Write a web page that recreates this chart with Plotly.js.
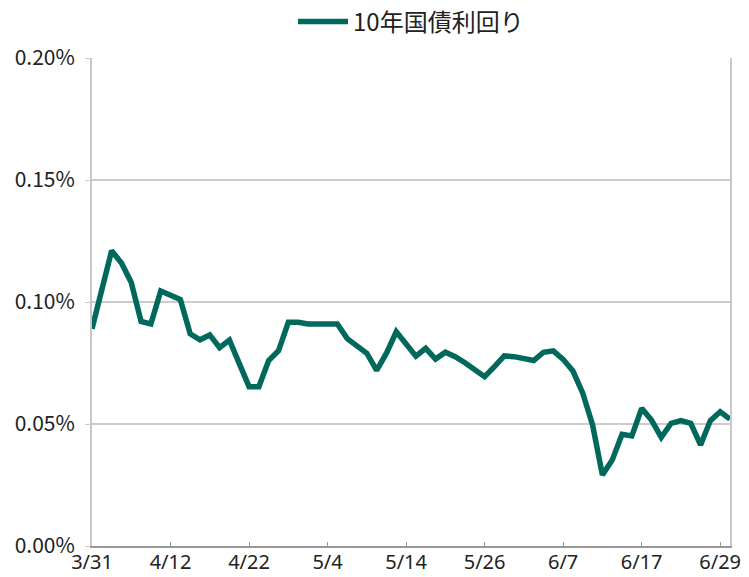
<!DOCTYPE html>
<html>
<head>
<meta charset="utf-8">
<script src="https://cdn.plot.ly/plotly-3.0.1.min.js"></script>
<style>html,body{margin:0;padding:0;background:#fff;}#chart{width:749px;height:577px;}</style>
</head>
<body>
<div id="chart"></div>
<script>
const seriesName = "10年国債利回り";
const dates = [
  "3/31","4/1","4/2","4/5","4/6","4/7","4/8","4/9","4/12",
  "4/13","4/14","4/15","4/16","4/19","4/20","4/21","4/22",
  "4/23","4/26","4/27","4/28","4/29","4/30","5/3","5/4",
  "5/5","5/6","5/7","5/10","5/11","5/12","5/13","5/14",
  "5/17","5/18","5/19","5/20","5/21","5/24","5/25","5/26",
  "5/27","5/28","5/31","6/1","6/2","6/3","6/4","6/7",
  "6/8","6/9","6/10","6/11","6/14","6/15","6/16","6/17",
  "6/18","6/21","6/22","6/23","6/24","6/25","6/28","6/29","6/30"
];
const yields = [
  0.089,0.106,0.121,0.116,0.108,0.092,0.091,0.1045,0.103,
  0.101,0.087,0.0845,0.0865,0.0813,0.0844,0.075,0.0653,
  0.0653,0.076,0.080,0.0917,0.0917,0.091,0.091,0.091,
  0.091,0.085,0.082,0.079,0.072,0.079,0.0878,0.0826,
  0.0778,0.081,0.0766,0.0794,0.0776,0.0751,0.0721,0.0694,
  0.0735,0.0779,0.0776,0.0769,0.076,0.0794,0.080,0.0765,
  0.0717,0.0626,0.0496,0.0291,0.0352,0.0458,0.0451,0.0564,
  0.0516,0.0445,0.0503,0.0514,0.0503,0.0414,0.0514,0.055,0.052
];
const yTickVals = [0, 0.05, 0.10, 0.15, 0.20];
const yTickText = ["0.00%","0.05%","0.10%","0.15%","0.20%"];
const xTickLabels = ["3/31","4/12","4/22","5/4","5/14","5/26","6/7","6/17","6/29"];

const font = '"Noto Sans CJK JP", "Noto Sans", sans-serif';

Plotly.newPlot('chart', [{
  x: dates,
  y: yields,
  type: 'scatter',
  mode: 'lines',
  name: seriesName,
  line: {color: '#00695c', width: 5.5, shape: 'linear'},
  hoverinfo: 'skip'
}], {
  width: 749, height: 577,
  margin: {l: 92, r: 19, t: 58, b: 31, autoexpand: false},
  paper_bgcolor: '#ffffff', plot_bgcolor: '#ffffff',
  font: {family: font, color: '#222222', size: 21},
  showlegend: true,
  legend: {
    orientation: 'h', x: 0.5, xanchor: 'center',
    yref: 'container', y: 0.962, yanchor: 'middle',
    font: {family: font, size: 24, color: '#222222'},
    itemwidth: 50
  },
  xaxis: {
    type: 'category',
    categoryorder: 'array', categoryarray: dates,
    range: [0, dates.length - 1],
    tickmode: 'array', tickvals: xTickLabels, ticktext: xTickLabels,
    ticks: 'inside', ticklen: 4, tickcolor: '#999999', tickwidth: 1,
    ticklabelstandoff: -3,
    showline: true, linecolor: '#999999', linewidth: 2,
    showgrid: false, zeroline: false,
    tickfont: {family: '"Noto Sans", sans-serif', size: 20, color: '#222222'},
    fixedrange: true
  },
  yaxis: {
    range: [0, 0.2],
    tickmode: 'array', tickvals: yTickVals, ticktext: yTickText,
    ticks: 'outside', ticklen: 5, tickcolor: '#cccccc', tickwidth: 1,
    ticklabelstandoff: 6,
    showline: true, mirror: true, linecolor: '#c8c8c8', linewidth: 2,
    showgrid: true, gridcolor: '#cccccc', gridwidth: 1.5,
    zeroline: false,
    tickfont: {family: font, size: 21, color: '#222222'},
    fixedrange: true
  }
}, {displayModeBar: false, staticPlot: true});
</script>
</body>
</html>
